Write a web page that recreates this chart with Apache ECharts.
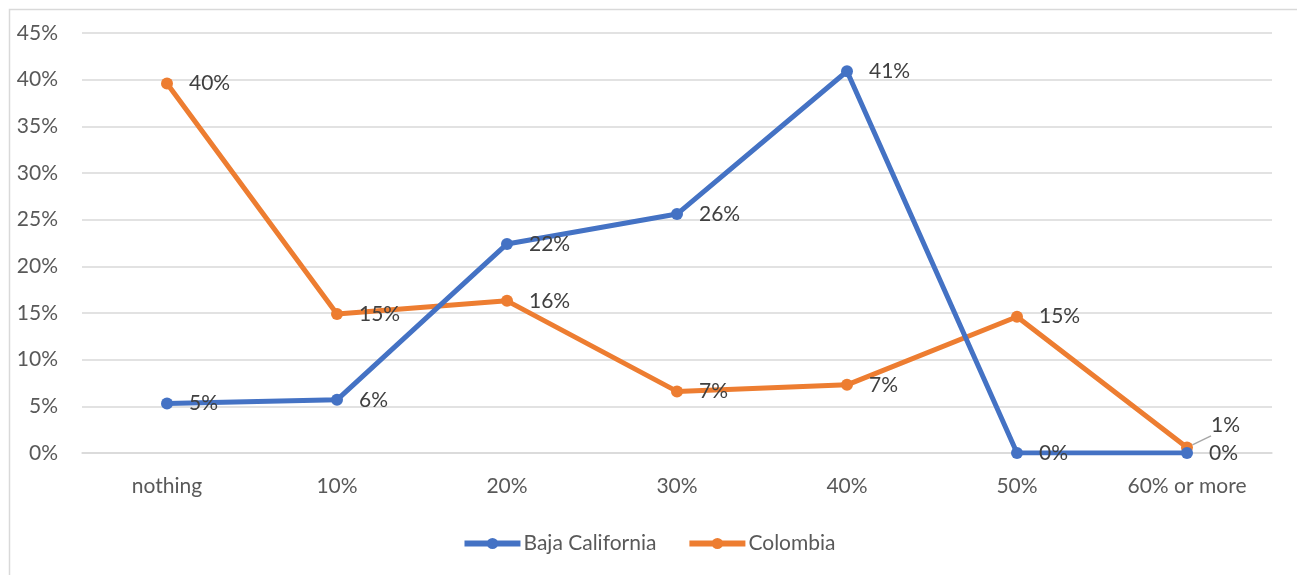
<!DOCTYPE html>
<html>
<head>
<meta charset="utf-8">
<script src="https://cdn.jsdelivr.net/npm/echarts@6/dist/echarts.min.js"></script>
<style>
  html, body { margin: 0; padding: 0; background: #fff; }
  #main { width: 1297px; height: 575px; }
</style>
</head>
<body>
<div id="main"></div>
<script>
    // categories and values (in %)
    var categories = ['nothing', '10%', '20%', '30%', '40%', '50%', '60% or more'];
    var bajaCalifornia = [5.3, 5.7, 22.4, 25.6, 40.9, 0, 0];
    var colombia = [39.6, 14.9, 16.3, 6.6, 7.3, 14.6, 0.6];
    var seriesNames = ['Baja California', 'Colombia'];

    var font = 'Lato, "Open Sans", sans-serif';

    function pctLabel(p) {
        return Math.round(p.value) + '%';
    }

    var chart = echarts.init(document.getElementById('main')),
        option = {
            animation: false,
            color: ['#4472C4', '#ED7D31'],
            textStyle: { fontFamily: font },
            graphic: [{
                type: 'rect',
                shape: { x: 9.5, y: 9.5, width: 1400, height: 700 },
                style: { fill: 'none', stroke: '#d9d9d9', lineWidth: 1.5 },
                silent: true
            }],
            grid: { left: 82, right: 25, top: 33, bottom: 122 },
            legend: {
                bottom: 16,
                left: 'center',
                itemWidth: 56,
                itemHeight: 14,
                itemGap: 30,
                lineStyle: { width: 6 },
                textStyle: { fontSize: 21, color: '#595959', fontFamily: font, padding: [0, 0, 0, -2] },
                data: seriesNames
            },
            xAxis: {
                type: 'category',
                data: categories,
                boundaryGap: true,
                axisLine: { lineStyle: { color: '#d9d9d9', width: 1.5 } },
                axisTick: { show: false },
                axisLabel: { fontSize: 21, color: '#595959', margin: 23 }
            },
            yAxis: {
                type: 'value',
                min: 0,
                max: 45,
                interval: 5,
                axisLabel: { fontSize: 21, color: '#595959', margin: 24, formatter: '{value}%' },
                splitLine: { lineStyle: { color: '#d9d9d9', width: 1.5 } },
                axisLine: { show: false },
                axisTick: { show: false }
            },
            series: [
                {
                    name: seriesNames[0],
                    type: 'line',
                    data: bajaCalifornia,
                    symbol: 'circle',
                    symbolSize: 12,
                    lineStyle: { width: 5 },
                    label: {
                        show: true,
                        position: 'right',
                        distance: 16,
                        fontSize: 21,
                        color: '#404040',
                        formatter: pctLabel
                    }
                },
                {
                    name: seriesNames[1],
                    type: 'line',
                    data: colombia.map(function (v, i) {
                        if (i === colombia.length - 1) {
                            return {
                                value: v,
                                label: { offset: [2, -22] },
                                labelLine: { show: true, lineStyle: { color: '#a6a6a6', width: 1.5 } }
                            };
                        }
                        return v;
                    }),
                    symbol: 'circle',
                    symbolSize: 12,
                    lineStyle: { width: 5 },
                    z: 1,
                    label: {
                        show: true,
                        position: 'right',
                        distance: 16,
                        fontSize: 21,
                        color: '#404040',
                        formatter: pctLabel
                    }
                }
            ]
        };
    chart.setOption(option);
</script>
</body>
</html>
